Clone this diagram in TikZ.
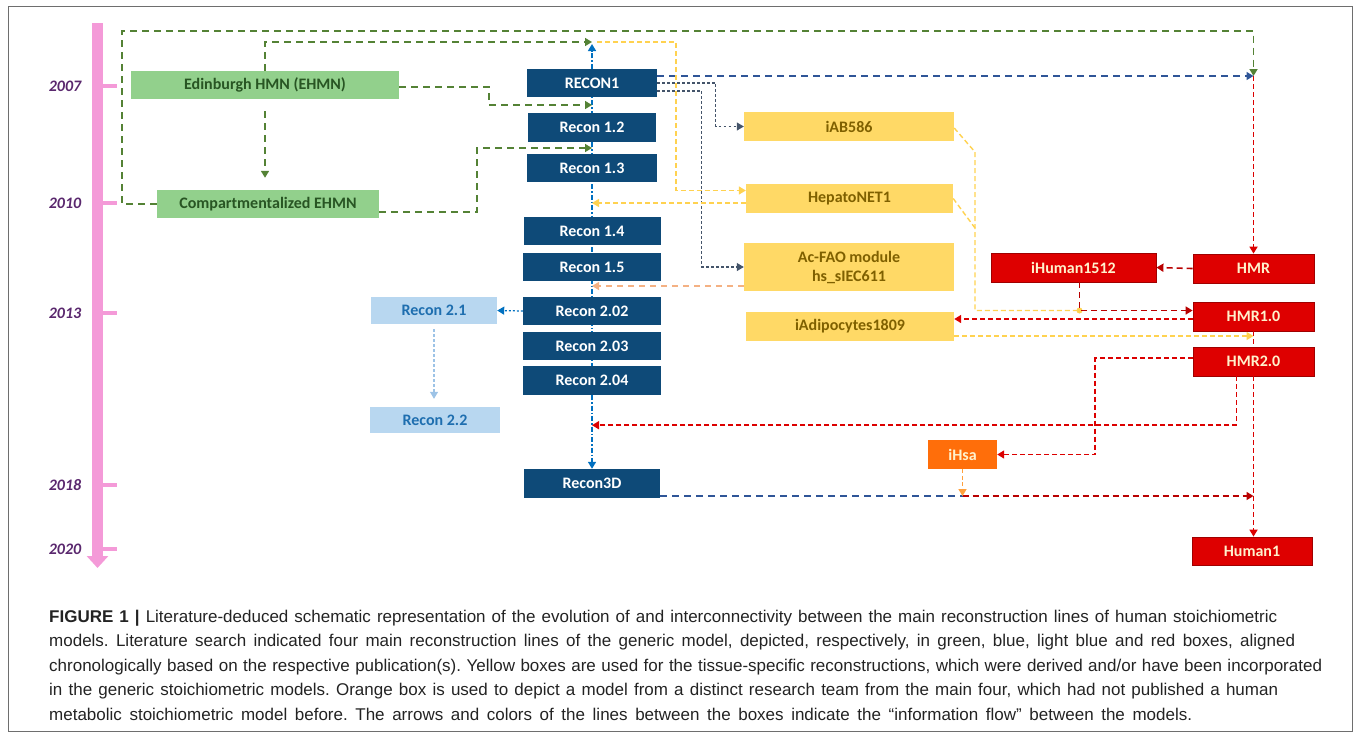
\documentclass[tikz,border=0pt]{standalone}
\usepackage{fontspec}
\setmainfont{Carlito}
\newfontfamily\captionfont{Liberation Sans}
\usetikzlibrary{positioning,arrows.meta,calc,backgrounds}
\definecolor{EhmnGreen}{RGB}{146,208,140}
\definecolor{EhmnText}{RGB}{40,85,35}
\definecolor{ReconBlue}{RGB}{14,74,120}
\definecolor{LightRecon}{RGB}{184,215,240}
\definecolor{LightReconText}{RGB}{30,110,175}
\definecolor{TissueYellow}{RGB}{255,217,102}
\definecolor{TissueText}{RGB}{127,96,0}
\definecolor{HmrRed}{RGB}{222,0,0}
\definecolor{HmrBorder}{RGB}{160,0,0}
\definecolor{HmrText}{RGB}{255,242,204}
\definecolor{IhsaOrange}{RGB}{255,110,10}
\definecolor{TimePink}{RGB}{244,154,216}
\definecolor{YearPurple}{RGB}{90,40,110}
\definecolor{LinkGreen}{RGB}{84,130,53}
\definecolor{SpineBlue}{RGB}{0,112,192}
\definecolor{NavyLink}{RGB}{47,85,151}
\definecolor{SlateLink}{RGB}{68,84,106}
\definecolor{LinkYellow}{RGB}{255,210,80}
\definecolor{LinkRed}{RGB}{220,0,0}
\definecolor{DarkRedLink}{RGB}{185,0,0}
\definecolor{PeachLink}{RGB}{244,177,131}
\definecolor{OrangeLink}{RGB}{255,160,60}
\definecolor{LightBlueLink}{RGB}{157,195,230}
\definecolor{CaptionGray}{RGB}{35,35,35}
\definecolor{FrameGray}{RGB}{110,110,110}

\begin{document}
\begin{tikzpicture}[x=1pt, y=-1pt,
    every node/.style={font=\bfseries\fontsize{16}{19}\selectfont, inner sep=0pt, align=center},
    model/.style={minimum height=28pt},
    greenbox/.style={model, fill=EhmnGreen, text=EhmnText},
    reconbox/.style={model, fill=ReconBlue, text=white},
    lightbox/.style={model, fill=LightRecon, text=LightReconText},
    tissuebox/.style={model, fill=TissueYellow, text=TissueText},
    hmrbox/.style={model, fill=HmrRed, draw=HmrBorder, line width=0.8pt, text=HmrText},
    ihsabox/.style={model, fill=IhsaOrange, text=HmrText},
    yearlabel/.style={font=\bfseries\itshape\fontsize{16}{19}\selectfont, text=YearPurple},
    captext/.style={font=\captionfont\fontsize{17}{24.5}\selectfont\frenchspacing, align=left, text=CaptionGray},
    tip/.style={-{Triangle[width=8pt,length=7pt]}},
    greenlink/.style={draw=LinkGreen, line width=1.6pt, dash pattern=on 7pt off 5pt},
    spinelink/.style={draw=SpineBlue, line width=1.5pt, dash pattern=on 5pt off 2pt on 1.5pt off 2pt},
    navylink/.style={draw=NavyLink, line width=1.5pt, dash pattern=on 7pt off 5pt},
    slatelink/.style={draw=SlateLink, line width=1.2pt, dash pattern=on 2.5pt off 2.5pt},
    yellowlink/.style={draw=LinkYellow, line width=1.4pt, dash pattern=on 5pt off 3pt},
    redlink/.style={draw=LinkRed, line width=1.6pt, dash pattern=on 5pt off 3pt},
    darkredlink/.style={draw=DarkRedLink, line width=1.6pt, dash pattern=on 6pt off 4pt},
    peachlink/.style={draw=PeachLink, line width=1.5pt, dash pattern=on 6pt off 5pt},
    orangelink/.style={draw=OrangeLink, line width=1.5pt, dash pattern=on 4pt off 2.5pt},
    bluedot/.style={draw=SpineBlue, line width=1.2pt, dash pattern=on 2pt off 2pt},
    lightdot/.style={draw=LightBlueLink, line width=1.2pt, dash pattern=on 3pt off 2pt},
]
\useasboundingbox (0,0) rectangle (1356,732);
\draw[FrameGray, line width=1pt] (8,6) rectangle (1352,731);

% timeline
\draw[TimePink, line width=11pt, -{Triangle[width=21pt,length=12pt]}] (97.5,23) -- (97.5,568);
\foreach \yr/\ypos in {2007/86, 2010/203, 2013/313, 2018/485, 2020/549} {
    \draw[TimePink, line width=4pt] (103,\ypos) -- (117,\ypos);
    \node[yearlabel] (y\yr) at (65,\ypos) {\yr};
}

% green line
\node[greenbox, minimum width=268pt] (ehmn) at (265,85) {Edinburgh HMN (EHMN)};
\node[greenbox, minimum width=222pt] (cehmn) at (268,204) {Compartmentalized EHMN};

% blue line
\node[reconbox, minimum width=130pt] (recon1) at (592,83) {RECON1};
\node[reconbox, minimum width=128pt, minimum height=29pt] (r12) at (592,127.5) {Recon 1.2};
\node[reconbox, minimum width=130pt] (r13) at (592,168) {Recon 1.3};
\node[reconbox, minimum width=137pt] (r14) at (592,231) {Recon 1.4};
\node[reconbox, minimum width=138pt] (r15) at (592,267) {Recon 1.5};
\node[reconbox, minimum width=138pt] (r202) at (592,311) {Recon 2.02};
\node[reconbox, minimum width=138pt] (r203) at (592,346) {Recon 2.03};
\node[reconbox, minimum width=138pt, minimum height=29pt] (r204) at (592,380.5) {Recon 2.04};
\node[reconbox, minimum width=136pt, minimum height=29pt] (r3d) at (592,483.5) {Recon3D};

% light blue line
\node[lightbox, minimum width=126pt, minimum height=27pt] (r21) at (434,310.5) {Recon 2.1};
\node[lightbox, minimum width=130pt, minimum height=26pt] (r22) at (435,420) {Recon 2.2};

% tissue-specific
\node[tissuebox, minimum width=210pt, minimum height=29pt] (iab) at (849,126.5) {iAB586};
\node[tissuebox, minimum width=207pt, minimum height=29pt] (hep) at (849.5,198.5) {HepatoNET1};
\node[tissuebox, minimum width=210pt, minimum height=48pt] (acfao) at (849,267) {Ac-FAO module\\hs\_sIEC611};
\node[tissuebox, minimum width=208pt, minimum height=29pt] (iadi) at (850,326.5) {iAdipocytes1809};

% red line
\node[hmrbox, minimum width=165pt, minimum height=29pt] (ihum) at (1073.5,267.5) {iHuman1512};
\node[hmrbox, minimum width=121pt, minimum height=29pt] (hmr) at (1253.5,268.5) {HMR};
\node[hmrbox, minimum width=121pt, minimum height=29pt] (hmr1) at (1253.5,316.5) {HMR1.0};
\node[hmrbox, minimum width=121pt, minimum height=29pt] (hmr2) at (1253.5,361.5) {HMR2.0};
\node[hmrbox, minimum width=120pt] (human1) at (1252,551) {Human1};
\node[ihsabox, minimum width=69pt, minimum height=29pt] (ihsa) at (962.5,454.5) {iHsa};

% join points
\coordinate (spinetop) at (592,42);
\coordinate (hmrjoin) at (1253.5,76);
\coordinate (j1) at ($(recon1.south)!0.5!(r12.north)$);
\coordinate (j2) at ($(r12.south)!0.5!(r13.north)$);
\coordinate (hepin) at ([yshift=8pt]hep.west);
\coordinate (hepout) at ([yshift=-4.5pt]hep.west);
\coordinate (faoout) at ([yshift=-19pt]acfao.west);
\coordinate (hmr1in) at ([yshift=6pt]hmr1.west);
\coordinate (hmr1out) at ([yshift=-2.5pt]hmr1.west);
\coordinate (merge) at ([xshift=6pt]ihum.south |- hmr1in);
\coordinate (iadiout) at ([yshift=-9.5pt]iadi.east);
\coordinate (spinered) at ([yshift=-30pt]r204.south);
\coordinate (r3dout) at ([yshift=-12.5pt]r3d.east);
\coordinate (ihsadrop) at (ihsa.south |- r3dout);
\coordinate (human1in) at (hmr2.south |- r3dout);

\begin{scope}[on background layer]
\draw[spinelink] (recon1.north) -- (r204.south);
\end{scope}

% green connectors
\draw[greenlink, tip] (cehmn.west) -- (122,204) |- (1253.5,31) -- (hmrjoin);
\draw[greenlink, tip] (ehmn.north) |- (spinetop);
\draw[greenlink, tip] ([yshift=-2pt]ehmn.east) -- (489,87) |- (j1);
\draw[greenlink, tip, shorten <=12pt, shorten >=12pt] (ehmn.south) -- (ehmn.south |- cehmn.north);
\draw[greenlink, tip] ([yshift=-8pt]cehmn.east) -- (477,212) |- (j2);

% blue connectors
\draw[spinelink, tip] (recon1.north) -- ([yshift=-2pt]spinetop);
\draw[spinelink, tip] (r204.south) -- (r3d.north);
\draw[navylink, tip] ([yshift=7pt]recon1.east) -- (hmrjoin);
\draw[slatelink, tip] (recon1.east) -| ([xshift=-28pt]iab.west) -- (iab.west);
\draw[slatelink, tip] ([yshift=-8pt]recon1.east) -| ([xshift=-42pt]acfao.west) -- (acfao.west);
\draw[bluedot, tip] (r202.west) -- (r21.east);
\draw[lightdot, tip, shorten <=5pt, shorten >=8pt] (r21.south) -- (r21.south |- r22.north);

% yellow connectors
\draw[yellowlink, tip] ([xshift=5pt]spinetop) -| ([xshift=-70pt]hepin) -- (hepin);
\draw[yellowlink, tip] (hepout) -- (hepout -| recon1.center);
\draw[peachlink, tip] (faoout) -- (faoout -| recon1.center);
\draw[yellowlink] ([yshift=-1.5pt]iab.east) -- (975,152) |- (merge);
\draw[yellowlink] (hep.east) -- (975,228);
\fill[LinkYellow] (merge) circle (3pt);
\draw[yellowlink, tip] (iadiout) -- (iadiout -| hmr1.south);

% red connectors
\draw[redlink, tip] (hmrjoin) -- (hmr.north);
\draw[darkredlink, tip] (hmr.west) -- (ihum.east);
\draw[darkredlink, tip] ([xshift=6pt]ihum.south) -- (merge) -- (hmr1in);
\draw[redlink, tip] (hmr1out) -- (hmr1out -| iadi.east);
\draw[redlink] (hmr1.south) -- (hmr2.north);
\draw[redlink, tip] ([yshift=3.5pt]hmr2.west) -| ([xshift=98pt]ihsa.east) -- (ihsa.east);
\draw[redlink, tip] ([xshift=-17pt]hmr2.south) |- (spinered);
\draw[redlink, tip] (hmr2.south) -- (hmr2.south |- human1.north);
\draw[navylink] (r3dout) -- (ihsadrop);
\draw[darkredlink, tip] (ihsadrop) -- (human1in);
\draw[orangelink, tip] (ihsa.south) -- (ihsadrop);

% caption
\node[captext, anchor=north west] (caption) at (49,609.5) {%
\makebox[1228pt][s]{\textbf{FIGURE 1 |} Literature-deduced schematic representation of the evolution of and interconnectivity between the main reconstruction lines of human stoichiometric}\\
\makebox[1246pt][s]{models. Literature search indicated four main reconstruction lines of the generic model, depicted, respectively, in green, blue, light blue and red boxes, aligned}\\
\makebox[1273pt][s]{chronologically based on the respective publication(s). Yellow boxes are used for the tissue-specific reconstructions, which were derived and/or have been incorporated}\\
\makebox[1229pt][s]{in the generic stoichiometric models. Orange box is used to depict a model from a distinct research team from the main four, which had not published a human}\\
\makebox[1143pt][s]{metabolic stoichiometric model before. The arrows and colors of the lines between the boxes indicate the “information flow” between the models.}};
\end{tikzpicture}
\end{document}
